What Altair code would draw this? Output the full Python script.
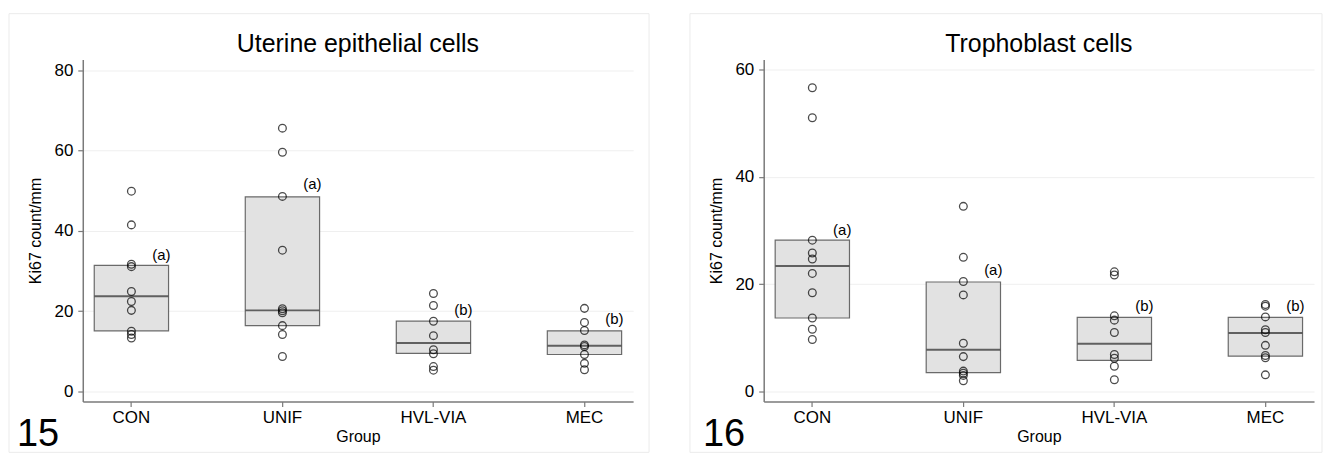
import altair as alt
import pandas as pd

FONT = "Liberation Sans"

groups = ["CON", "UNIF", "HVL-VIA", "MEC"]
letters = ["(a)", "(a)", "(b)", "(b)"]

# Panel 15: Uterine epithelial cells
ut_con = [49.9, 41.5, 31.7, 31.1, 24.9, 22.4, 20.2, 15.0, 14.2, 13.3]
ut_unif = [65.6, 59.6, 48.6, 35.2, 20.6, 20.1, 19.6, 16.4, 14.2, 8.7]
ut_hvl = [24.4, 21.4, 17.5, 13.9, 10.4, 9.4, 6.2, 5.3]
ut_mec = [20.7, 17.2, 15.2, 11.6, 11.2, 9.2, 7.0, 5.4]
ut_q1 = [15.1, 16.4, 9.5, 9.2]
ut_med = [23.7, 20.2, 12.1, 11.4]
ut_q3 = [31.4, 48.5, 17.5, 15.1]
ut_lab_y = [34.0, 51.6, 20.2, 18.1]

# Panel 16: Trophoblast cells
tr_con = [56.6, 51.0, 28.2, 25.8, 24.7, 22.0, 18.4, 13.7, 11.6, 9.7]
tr_unif = [34.5, 25.0, 20.5, 18.0, 9.0, 6.5, 3.8, 3.4, 3.0, 2.0]
tr_hvl = [22.3, 21.7, 14.1, 13.3, 11.0, 6.9, 6.2, 4.7, 2.2]
tr_mec = [16.2, 15.9, 13.9, 11.5, 11.0, 8.6, 6.7, 6.3, 3.1]
tr_q1 = [13.7, 3.5, 5.8, 6.6]
tr_med = [23.4, 7.8, 8.9, 10.9]
tr_q3 = [28.2, 20.4, 13.8, 13.8]
tr_lab_y = [30.1, 22.6, 15.9, 15.9]

W, H = 552, 343


def panel(title, number, series, q1, med, q3, lab_y, domain, ticks, num_x, frame_r):
    pts = pd.DataFrame(
        [{"group": g, "value": v} for g, vals in zip(groups, series) for v in vals]
    )
    box = pd.DataFrame({"group": groups, "q1": q1, "med": med, "q3": q3,
                        "lab_y": lab_y, "lab": letters})
    one = pd.DataFrame({"k": [0]})

    xscale = alt.Scale(domain=groups, paddingInner=0.508, paddingOuter=0.076)
    yscale = alt.Scale(domain=domain, nice=False, zero=False)
    xenc = alt.X("group:N", scale=xscale, sort=groups,
                 axis=alt.Axis(title="Group", labelAngle=0, grid=False))
    yaxis = alt.Axis(title="Ki67 count/mm", values=ticks, grid=True)

    frame = alt.Chart(one).mark_rect(
        fillOpacity=0, stroke="#ebebeb", strokeWidth=1
    ).encode(x=alt.value(-74), x2=alt.value(W + frame_r),
             y=alt.value(-46), y2=alt.value(H + 51))

    bars = alt.Chart(box).mark_bar(
        color="#e2e2e2", stroke="#6a6a6a", strokeWidth=1.2
    ).encode(x=xenc, y=alt.Y("q1:Q", scale=yscale, axis=yaxis), y2="q3:Q")

    medians = alt.Chart(box).mark_tick(
        color="#2a2a2a", thickness=2, size=74
    ).encode(x=xenc, y=alt.Y("med:Q", scale=yscale))

    points = alt.Chart(pts).mark_point(
        shape="circle", filled=False, color="black", size=60, strokeWidth=1.3
    ).encode(x=xenc, y=alt.Y("value:Q", scale=yscale))

    labs = alt.Chart(box).mark_text(
        dx=30, fontSize=15, font=FONT, color="black", baseline="middle"
    ).encode(x=xenc, y=alt.Y("lab_y:Q", scale=yscale), text="lab:N")

    num = alt.Chart(one).mark_text(
        text=number, fontSize=38, font=FONT, color="black",
        align="left", baseline="alphabetic"
    ).encode(x=alt.value(num_x), y=alt.value(H + 45))

    ttl = alt.Chart(one).mark_text(
        text=title, fontSize=25, font=FONT, color="black",
        align="center", baseline="alphabetic"
    ).encode(x=alt.value(W / 2), y=alt.value(-8))

    return alt.layer(frame, bars, medians, points, labs, num, ttl).properties(
        width=W, height=H
    )


left = panel("Uterine epithelial cells", "15",
             [ut_con, ut_unif, ut_hvl, ut_mec], ut_q1, ut_med, ut_q3, ut_lab_y,
             [-2.5, 82.7], [0, 20, 40, 60, 80], -66, 16)
right = panel("Trophoblast cells", "16",
              [tr_con, tr_unif, tr_hvl, tr_mec], tr_q1, tr_med, tr_q3, tr_lab_y,
              [-1.86, 61.86], [0, 20, 40, 60], -61, 8)

chart = alt.hconcat(left, right, spacing=39).properties(
    padding={"left": 0, "top": 4, "right": 0, "bottom": 0}
).configure_view(strokeWidth=0).configure_axis(
    labelFont=FONT, titleFont=FONT, labelFontSize=17, titleFontSize=16,
    labelColor="black", titleColor="black", titleFontWeight="normal",
    domainColor="#7a7a7a", domainWidth=1.5, tickColor="#7a7a7a", tickSize=5,
    tickWidth=1.2, gridColor="#efefef", gridWidth=1,
).configure_axisX(labelPadding=3, titlePadding=3).configure_axisY(
    labelPadding=5, titlePadding=10
)

chart.save("out.html", embed_options={"renderer": "svg", "actions": False})
